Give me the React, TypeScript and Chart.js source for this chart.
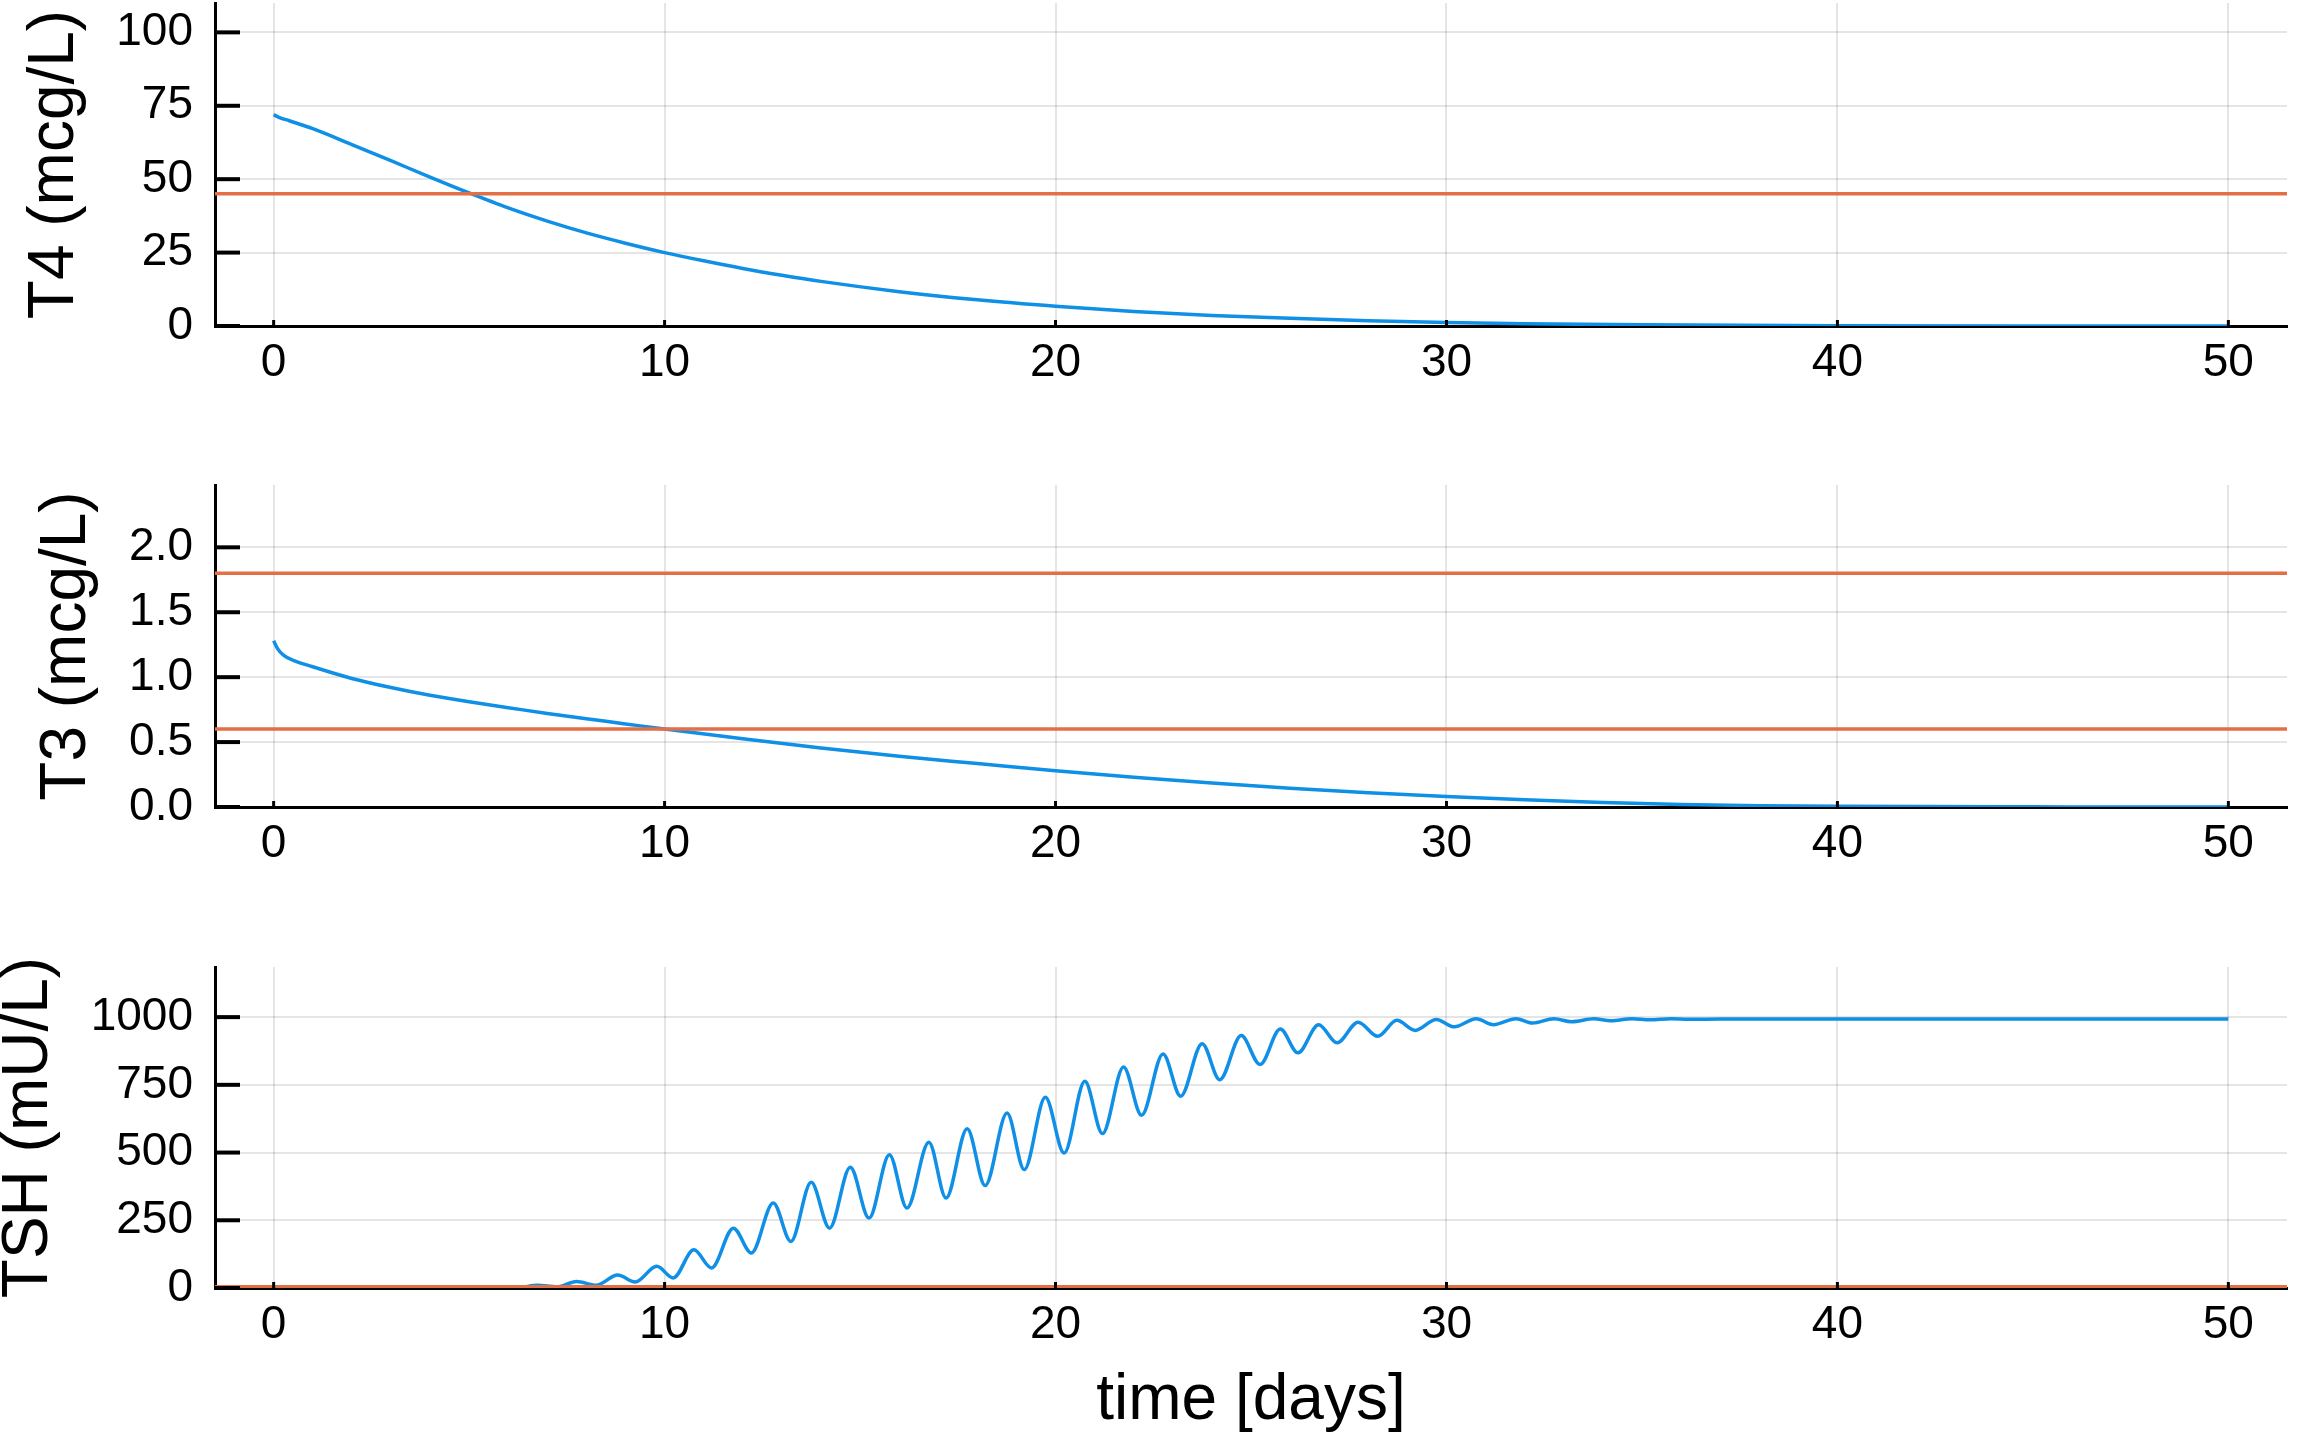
import React, { useEffect, useRef } from 'react';
import { Chart, registerables } from 'chart.js';

Chart.register(...registerables);

// ---------- data ----------
const xTicks = [0, 10, 20, 30, 40, 50];
const xMin = -1.5;
const xMax = 51.5;

const t4Days = [0, 0.15, 0.4, 1, 2, 3, 4, 5, 6, 7, 8, 9, 10, 11, 12, 13, 14, 16, 18, 20, 22, 24, 26, 28, 30, 32, 35, 40, 45, 50];
const t4Values = [72, 71, 69.9, 67.2, 61.8, 56.3, 50.7, 45.3, 40.2, 35.7, 31.7, 28.2, 25, 22.2, 19.6, 17.3, 15.2, 11.7, 8.9, 6.7, 4.9, 3.6, 2.6, 1.8, 1.2, 0.75, 0.4, 0.12, 0.03, 0.01];
const t4RefLines = [45];
const t4Ticks = [0, 25, 50, 75, 100];

const t3Days = [0, 0.1, 0.25, 0.5, 1, 2, 3, 4, 5, 6, 7, 8, 9, 10, 12, 14, 16, 18, 20, 22, 24, 26, 28, 30, 32, 34, 36, 38, 40, 45, 50];
const t3Values = [1.28, 1.22, 1.17, 1.13, 1.08, 0.99, 0.92, 0.86, 0.81, 0.765, 0.72, 0.68, 0.64, 0.6, 0.525, 0.455, 0.39, 0.335, 0.28, 0.23, 0.185, 0.145, 0.11, 0.08, 0.055, 0.035, 0.02, 0.01, 0.005, 0.001, 0];
const t3RefLines = [0.6, 1.8];
const t3Ticks = [0, 0.5, 1, 1.5, 2];

const tshDays = [
  0, 2, 4, 5, 5.75, 6.25, 6.75, 7.25, 7.75, 8.25, 8.8, 9.25, 9.8, 10.22, 10.75, 11.2, 11.76, 12.22,
  12.78, 13.23, 13.75, 14.22, 14.75, 15.23, 15.75, 16.2, 16.76, 17.2, 17.74, 18.2, 18.76, 19.2,
  19.74, 20.22, 20.75, 21.2, 21.74, 22.2, 22.75, 23.2, 23.75, 24.2, 24.75, 25.23, 25.75, 26.2,
  26.73, 27.2, 27.74, 28.24, 28.73, 29.2, 29.74, 30.2, 30.76, 31.2, 31.78, 32.2, 32.75, 33.2,
  33.77, 34.2, 34.75, 35.2, 35.75, 36.2, 37, 40, 45, 50,
];
const tshValues = [
  1.5, 1.5, 2, 2.5, 4, 2, 10, 4, 24, 10, 48, 22, 80, 37, 141, 74, 221, 129,
  314, 172, 390, 221, 446, 258, 492, 295, 538, 332, 588, 378, 646, 437,
  704, 498, 763, 570, 816, 638, 864, 708, 902, 769, 932, 825, 956, 868,
  972, 905, 981, 929, 988, 951, 991, 964, 994, 972, 994, 978, 994, 983,
  994, 987, 994, 990, 994, 992, 993, 993, 993, 993,
];
const tshRefLines = [0.5, 4.5];
const tshTicks = [0, 250, 500, 750, 1000];

// ---------- style ----------
const BLUE = '#0f8fe6';
const ORANGE = '#e26f46';
const FONT = "'Liberation Sans', Arial, Helvetica, sans-serif";
const GRID = 'rgba(0,0,0,0.1)';

type Panel = {
  top: number;
  height: number;
  padTop: number;
  xAxisHeight: number;
  days: number[];
  values: number[];
  refs: number[];
  yTicks: number[];
  yMin: number;
  yMax: number;
  decimals: number;
  yTitle: string;
  yTitlePad: number;
  xTitle?: string;
};

const panels: Panel[] = [
  {
    top: 0, height: 420, padTop: 3, xAxisHeight: 94,
    days: t4Days, values: t4Values, refs: t4RefLines, yTicks: t4Ticks,
    yMin: 0, yMax: 110, decimals: 0, yTitle: 'T4 (mcg/L)', yTitlePad: 23,
  },
  {
    top: 420, height: 460, padTop: 65, xAxisHeight: 73,
    days: t3Days, values: t3Values, refs: t3RefLines, yTicks: t3Ticks,
    yMin: 0, yMax: 2.48, decimals: 1, yTitle: 'T3 (mcg/L)', yTitlePad: 35,
  },
  {
    top: 880, height: 570, padTop: 87, xAxisHeight: 162,
    days: tshDays, values: tshValues, refs: tshRefLines, yTicks: tshTicks,
    yMin: 0, yMax: 1185, decimals: 0, yTitle: 'TSH (mU/L)', yTitlePad: -3,
    xTitle: 'time [days]',
  },
];

function drawInnerTicks(chart: any) {
  const ctx = chart.ctx;
  const area = chart.chartArea;
  const xs = chart.scales['x'];
  const ys = chart.scales['y'];
  if (!ctx || !area || !xs || !ys) return;
  ctx.save();
  ctx.strokeStyle = '#000';
  ctx.lineWidth = 4;
  ys.ticks.forEach((t: any) => {
    const py = ys.getPixelForValue(t.value);
    ctx.beginPath();
    ctx.moveTo(area.left, py);
    ctx.lineTo(area.left + 25, py);
    ctx.stroke();
  });
  ctx.lineWidth = 3;
  xs.ticks.forEach((t: any) => {
    const px = xs.getPixelForValue(t.value);
    ctx.beginPath();
    ctx.moveTo(px, area.bottom);
    ctx.lineTo(px, area.bottom - 6);
    ctx.stroke();
  });
  ctx.restore();
}

function PanelChart({ p }: { p: Panel }) {
  const ref = useRef<HTMLCanvasElement | null>(null);
  useEffect(() => {
    if (!ref.current) return;
    const datasets: any[] = [
      {
        data: p.days.map((d, i) => ({ x: d, y: p.values[i] })),
        borderColor: BLUE,
        borderWidth: 3.5,
        pointRadius: 0,
        cubicInterpolationMode: 'monotone',
        fill: false,
        order: 1,
      },
      ...p.refs.map((r) => ({
        data: [{ x: xMin, y: r }, { x: xMax, y: r }],
        borderColor: ORANGE,
        borderWidth: 3.5,
        pointRadius: 0,
        fill: false,
        order: 0,
      })),
    ];
    const tickPlugin = {
      id: 'innerTicks',
      afterDraw: (chart: any) => drawInnerTicks(chart),
    };
    const chart = new Chart(ref.current, {
      type: 'line',
      data: { datasets },
      plugins: [tickPlugin],
      options: {
        responsive: false,
        animation: false,
        events: [],
        layout: { padding: { top: p.padTop, right: 16, left: 0, bottom: 0 } },
        plugins: { legend: { display: false }, tooltip: { enabled: false } },
        scales: {
          x: {
            type: 'linear',
            min: xMin,
            max: xMax,
            afterBuildTicks: (s: any) => { s.ticks = xTicks.map((v) => ({ value: v })); },
            afterFit: (s: any) => { s.height = p.xAxisHeight; s.paddingLeft = 0; s.paddingRight = 0; },
            grid: { color: GRID, lineWidth: 2, drawTicks: false },
            border: { color: '#000', width: 3 },
            ticks: {
              autoSkip: false, maxRotation: 0, padding: 10, color: '#000',
              font: { family: FONT, size: 46 },
              callback: (v: any) => String(v),
            },
            title: p.xTitle
              ? { display: true, text: p.xTitle, color: '#000', font: { family: FONT, size: 64, lineHeight: 1 }, padding: { top: 0, bottom: 17 } }
              : { display: false },
          },
          y: {
            type: 'linear',
            min: p.yMin,
            max: p.yMax,
            afterBuildTicks: (s: any) => { s.ticks = p.yTicks.map((v) => ({ value: v })); },
            afterFit: (s: any) => { s.width = 215; s.paddingTop = 0; s.paddingBottom = 0; },
            grid: { color: GRID, lineWidth: 2, drawTicks: false },
            border: { color: '#000', width: 3 },
            ticks: {
              padding: 22, color: '#000',
              font: { family: FONT, size: 46 },
              callback: (v: any) => Number(v).toFixed(p.decimals),
            },
            title: {
              display: true, text: p.yTitle, color: '#000',
              font: { family: FONT, size: 64, lineHeight: 1 },
              padding: { top: p.yTitlePad, bottom: 0 },
            },
          },
        },
      } as any,
    });
    return () => chart.destroy();
  }, [p]);
  return (
    <canvas
      ref={ref}
      width={2303}
      height={p.height}
      style={{ position: 'absolute', left: 0, top: p.top, width: 2303, height: p.height }}
    />
  );
}

export default function App() {
  return (
    <div style={{ position: 'absolute', left: 0, top: 0, width: 2303, height: 1450, background: '#fff', overflow: 'hidden' }}>
      {panels.map((p, i) => (
        <PanelChart key={i} p={p} />
      ))}
    </div>
  );
}
